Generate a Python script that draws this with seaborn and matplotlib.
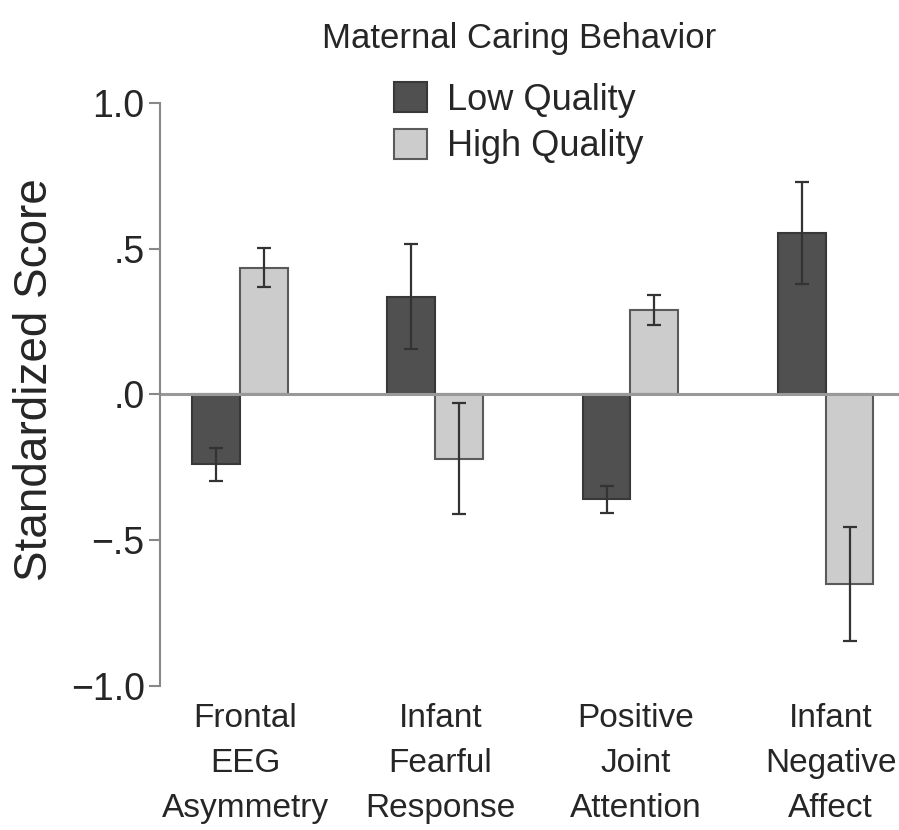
import seaborn as sns
import matplotlib.pyplot as plt
import matplotlib.transforms as mtransforms
import pandas as pd

sns.set_theme(style="white")
plt.rcParams['font.family'] = ['Liberation Sans', 'DejaVu Sans']

# values
measures = ["Frontal\nEEG\nAsymmetry", "Infant\nFearful\nResponse",
            "Positive\nJoint\nAttention", "Infant\nNegative\nAffect"]
groups = ["Low Quality", "High Quality"]
low_mean = [-0.24, 0.335, -0.36, 0.555]
high_mean = [0.435, -0.22, 0.29, -0.65]
low_se = [0.058, 0.18, 0.046, 0.175]
high_se = [0.066, 0.19, 0.05, 0.195]

df = pd.DataFrame({
    "measure": measures * 2,
    "group": [groups[0]] * 4 + [groups[1]] * 4,
    "score": low_mean + high_mean,
})
se = {groups[0]: low_se, groups[1]: high_se}

f = plt.figure(figsize=(8.99, 8.30), dpi=100)
ax = f.add_axes([0.178, 0.1735, 0.822, 0.7024])

pal = {groups[0]: "#505050", groups[1]: "#cccccc"}
sns.barplot(data=df, x="measure", y="score", hue="group", order=measures,
            hue_order=groups, palette=pal, width=0.49, errorbar=None,
            saturation=1, ax=ax, legend=True)

# edges and error bars
edge = {groups[0]: "#383838", groups[1]: "#5a5a5a"}
for cont, g in zip(ax.containers, groups):
    xs, ys = [], []
    for bar in cont:
        bar.set_edgecolor(edge[g])
        bar.set_linewidth(1.5)
        xs.append(bar.get_x() + bar.get_width() / 2)
        ys.append(bar.get_y() + bar.get_height())
    ax.errorbar(xs, ys, yerr=se[g], fmt="none", ecolor="#333333",
                elinewidth=1.6, capsize=5, capthick=1.6, zorder=3)

ax.axhline(0, color="#999999", lw=2.2, zorder=1)
ax.set_ylim(-1.0, 1.0)
ax.set_xlim(-0.41, 3.376)
ax.set_yticks([-1.0, -0.5, 0.0, 0.5, 1.0])
ax.set_yticklabels(["\u22121.0", "\u2212.5", ".0", ".5", "1.0"])
ax.set_xlabel("")
ax.set_ylabel("Standardized Score", fontsize=33)
ax.yaxis.set_label_coords(-0.14, 0.525)
ax.tick_params(axis="y", which="both", left=True, direction="out", length=8,
               width=1.5, color="#888888", labelsize=27, pad=3)
ax.tick_params(axis="x", bottom=False, labelsize=24, pad=6)
for lab in ax.get_xticklabels():
    lab.set_linespacing(1.58)
    lab.set_transform(lab.get_transform() +
                      mtransforms.ScaledTranslation(0.05, 0, f.dpi_scale_trans))

sns.despine(ax=ax, left=False, bottom=True)
ax.spines["left"].set_color("#888888")
ax.spines["left"].set_linewidth(1.5)

h, l = ax.get_legend_handles_labels()
ax.get_legend().remove()
leg = f.legend(h, l, title="Maternal Caring Behavior", loc="upper center",
               bbox_to_anchor=(0.577, 1.013), frameon=False, fontsize=26,
               title_fontsize=25, handlelength=0.9, handleheight=0.9,
               handletextpad=0.55, labelspacing=0.3)
leg._legend_box.sep = 20
for p, g in zip(leg.get_patches(), groups):
    p.set_edgecolor(edge[g])
    p.set_linewidth(1.5)

f.savefig("out.png", dpi=100)
